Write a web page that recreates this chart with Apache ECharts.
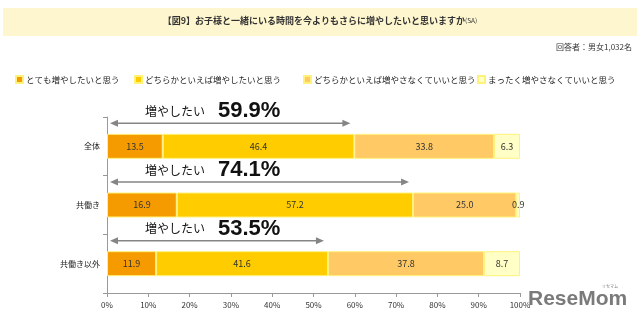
<!DOCTYPE html>
<html><head><meta charset="utf-8">
<script src="https://cdn.jsdelivr.net/npm/echarts@6/dist/echarts.min.js"></script>
<style>html,body{margin:0;padding:0;background:#fff}#c{width:640px;height:326px}</style>
</head><body><div id="c"></div>
<script>
const categories = ['全体', '共働き', '共働き以外'];
const seriesNames = ['とても増やしたいと思う', 'どちらかといえば増やしたいと思う', 'どちらかといえば増やさなくていいと思う', 'まったく増やさなくていいと思う'];
const veryMuch = [13.5, 16.9, 11.9];
const somewhatMore = [46.4, 57.2, 41.6];
const somewhatNot = [33.8, 25.0, 37.8];
const notAtAll = [6.3, 0.9, 8.7];
const wantMoreTotal = [59.9, 74.1, 53.5];
const xTicks = [0, 10, 20, 30, 40, 50, 60, 70, 80, 90, 100];
const colors = ['#F59B00', '#FFCC00', '#FFC966', '#FFFFC6'];
const FONT = '"Noto Sans CJK JP", "Noto Sans", sans-serif';

const chart = echarts.init(document.getElementById('c'), null, {renderer: 'canvas'});
const valueSets = [veryMuch, somewhatMore, somewhatNot, notAtAll];

const barSeries = valueSets.map((vals, i) => ({
  name: seriesNames[i],
  type: 'bar',
  stack: 'total',
  barWidth: 25,
  data: vals,
  itemStyle: {color: colors[i], borderColor: '#FFF27A', borderWidth: 1},
  label: {show: true, position: 'inside', color: '#333', fontSize: 9, fontFamily: FONT,
          formatter: p => p.value.toFixed(1)},
  emphasis: {disabled: true}
}));

const arrowSeries = {
  type: 'custom',
  silent: true,
  z: 10,
  data: wantMoreTotal.map((v, i) => [v, i]),
  renderItem: function (params, api) {
    const v = api.value(0), c = api.value(1);
    const p0 = api.coord([0, c]);
    const p1 = api.coord([v, c]);
    const y = p0[1] - 23;
    const xs = p0[0] + 3, xe = p1[0] - 4;
    const col = '#858585';
    return {
      type: 'group',
      children: [
        {type: 'line', shape: {x1: xs + 5, y1: y, x2: xe - 5, y2: y}, style: {stroke: col, lineWidth: 1.5}},
        {type: 'polygon', shape: {points: [[xs, y], [xs + 8, y - 3.5], [xs + 8, y + 3.5]]}, style: {fill: col}},
        {type: 'polygon', shape: {points: [[xe, y], [xe - 8, y - 3.5], [xe - 8, y + 3.5]]}, style: {fill: col}},
        {type: 'text', style: {x: p0[0] + 38, y: y - 12, text: '増やしたい', fill: '#111', fontSize: 12,
          fontFamily: FONT, verticalAlign: 'middle', align: 'left'}},
        {type: 'text', style: {x: p0[0] + 111, y: y - 12, text: v.toFixed(1) + '%', fill: '#111', fontSize: 22,
          fontWeight: 'bold', fontFamily: '"Liberation Sans", Arial, sans-serif', verticalAlign: 'middle', align: 'left'}}
      ]
    };
  }
};

const legendLeft = [10, 129, 298, 472];
const legends = seriesNames.map((n, i) => ({
  left: legendLeft[i], top: 70, itemWidth: 7, itemHeight: 7, icon: 'rect',
  textStyle: {fontSize: 8.5, color: '#222', fontFamily: FONT, padding: [0, 0, 0, -2]},
  data: [n]
}));

chart.setOption({
  animation: false,
  textStyle: {fontFamily: FONT},
  graphic: [
    {type: 'rect', shape: {x: 3, y: 8, width: 634, height: 28}, style: {fill: '#FDF6CF'}, z: 0},
    {type: 'text', left: 'center', top: 16, style: {
      text: '【図9】お子様と一緒にいる時間を今よりもさらに増やしたいと思いますか{s|(SA)}',
      fontSize: 9, fontWeight: 'bold', fill: '#333', fontFamily: FONT,
      rich: {s: {fontSize: 6.5, fontWeight: 'normal', fill: '#333', fontFamily: FONT}}}},
    {type: 'text', right: 8, top: 43, style: {text: '回答者：男女1,032名', fontSize: 8, fill: '#333', fontFamily: FONT}},
    {type: 'text', left: 528, top: 289, style: {text: 'ReseMom', fontSize: 21, fontWeight: 'bold', fill: '#7a7a7a',
      fontFamily: '"Liberation Sans", Arial, sans-serif'}},
    {type: 'text', left: 602, top: 284, style: {text: 'リセマム', fontSize: 4, fill: '#7a7a7a', fontFamily: FONT}}
  ],
  legend: legends,
  grid: {left: 107, right: 120, top: 117, bottom: 33, containLabel: false},
  xAxis: {
    type: 'value', min: 0, max: 100, interval: 10,
    axisLine: {show: true, lineStyle: {color: '#999'}},
    axisTick: {show: true, length: 4, lineStyle: {color: '#999'}},
    splitLine: {show: false},
    axisLabel: {fontSize: 8, color: '#333', margin: 8, formatter: v => xTicks.includes(v) ? v + '%' : ''}
  },
  yAxis: {
    type: 'category', data: categories, inverse: true,
    axisLine: {show: true, lineStyle: {color: '#999'}},
    axisTick: {show: true, length: 4, lineStyle: {color: '#999'}},
    axisLabel: {fontSize: 8, color: '#222', margin: 7}
  },
  series: [...barSeries, arrowSeries]
});
</script></body></html>
